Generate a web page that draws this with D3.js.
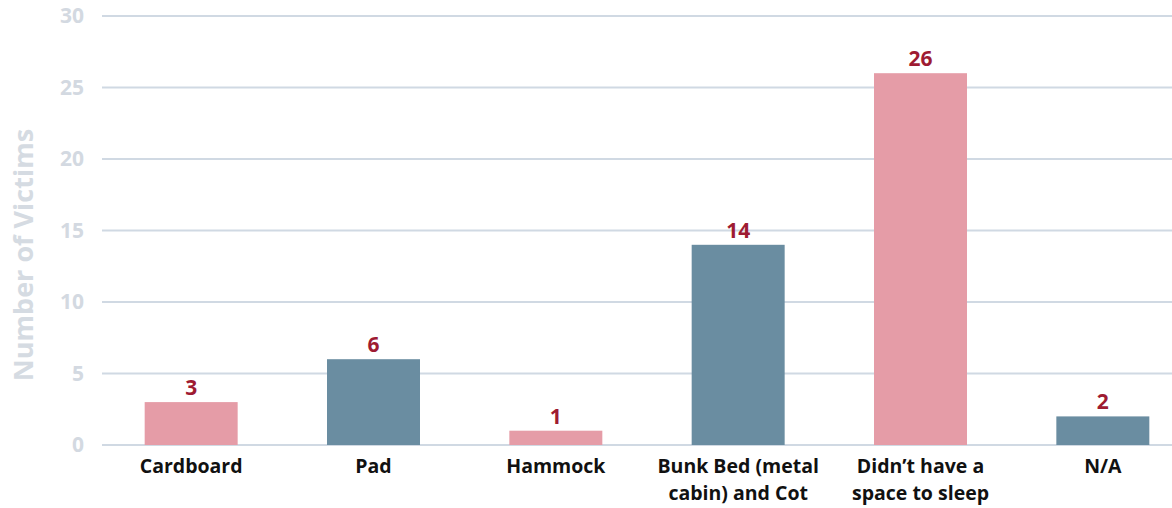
<!DOCTYPE html>
<html><head><meta charset="utf-8">
<script src="https://cdn.jsdelivr.net/npm/d3@7"></script>
<style>body{margin:0;background:#fff}svg{display:block}text{font-family:"Open Sans",sans-serif;font-weight:700}</style>
</head><body><svg id="c" width="1172" height="508"></svg>
<script>
const categories = ["Cardboard","Pad","Hammock","Bunk Bed (metal|cabin) and Cot","Didn’t have a|space to sleep","N/A"];
const values = [3,6,1,14,26,2];
const colors = ["#E59CA7","#6A8DA1","#E59CA7","#6A8DA1","#E59CA7","#6A8DA1"];
const yTicks = [0,5,10,15,20,25,30];
const yTitle = "Number of Victims";

const svg = d3.select("#c");
const x = d3.scaleBand().domain(categories).range([100,1194]).paddingInner(0.49).paddingOuter(0.245);
const y = d3.scaleLinear().domain([0,30]).range([445,16]);

const g = svg.append("g");
g.selectAll("line.grid").data(yTicks).join("line")
  .attr("x1",102).attr("x2",1172)
  .attr("y1",d=>y(d)).attr("y2",d=>y(d))
  .attr("stroke","#D0D9E3").attr("stroke-width",2.2);

const yAxis = d3.axisLeft(y).tickValues(yTicks).tickSize(0).tickPadding(0);
const ya = svg.append("g").attr("transform","translate(84,0)").call(yAxis);
ya.select(".domain").remove();
ya.selectAll("text").attr("fill","#D3D9E1").style("font-size","21px").style("font-family","'Open Sans',sans-serif").style("font-weight","700");

svg.append("text").attr("transform","translate(33,255) rotate(-90)")
  .attr("text-anchor","middle").attr("fill","#D5DBE2").style("font-size","27px").text(yTitle);

g.selectAll("rect.bar").data(values).join("rect")
  .attr("x",(d,i)=>x(categories[i])).attr("width",x.bandwidth())
  .attr("y",d=>y(d)).attr("height",d=>y(0)-y(d))
  .attr("fill",(d,i)=>colors[i]);

g.selectAll("text.val").data(values).join("text")
  .attr("x",(d,i)=>x(categories[i])+x.bandwidth()/2).attr("y",d=>y(d)-7)
  .attr("text-anchor","middle").attr("fill","#9E1B32").style("font-size","21px").text(d=>d);

const xl = g.selectAll("text.xl").data(categories).join("text")
  .attr("x",d=>x(d)+x.bandwidth()/2).attr("y",473)
  .attr("text-anchor","middle").attr("fill","#111").style("font-size","19.5px");
xl.each(function(d){
  const parts=d.split("|");
  const t=d3.select(this);
  parts.forEach((p,i)=>t.append("tspan").attr("x",t.attr("x")).attr("dy",i?27:0).text(p));
});
</script></body></html>
